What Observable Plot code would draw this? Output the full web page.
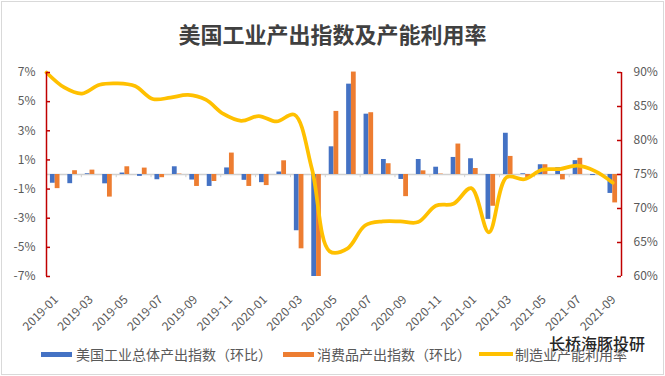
<!DOCTYPE html>
<html>
<head>
<meta charset="utf-8">
<script src="https://cdn.jsdelivr.net/npm/d3@7"></script>
<script src="https://cdn.jsdelivr.net/npm/@observablehq/plot@0.6"></script>
<style>
  html, body { margin: 0; padding: 0; background: #fff; }
  #wrap { position: relative; width: 665px; height: 376px; overflow: hidden; background: #fff;
          font-family: "Noto Sans CJK SC", "Noto Sans", sans-serif; }
  #border { position: absolute; left: 1px; top: 1px; width: 661px; height: 372px; border: 1px solid #d9d9d9; }
  #chart { position: absolute; left: 0; top: 0; }
  #title { position: absolute; left: 0; top: 22px; width: 665px; text-align: center;
           font-size: 22px; line-height: 22px; font-weight: bold; color: #404040; }
  .lg { position: absolute; top: 347px; font-size: 14px; line-height: 14px; color: #595959; white-space: nowrap; }
  .sw { position: absolute; }
  #wm { position: absolute; left: 549px; top: 335px; font-size: 16px; line-height: 16px; color: #262626;
        font-weight: 500; white-space: nowrap; text-shadow: 0 0 2px #fff, 0 0 2px #fff; }
</style>
</head>
<body>
<div id="wrap">
  <div id="border"></div>
  <div id="chart"></div>
  <div id="title">美国工业产出指数及产能利用率</div>
  <div class="sw" style="left:41px;top:352px;width:31px;height:5px;background:#4472C4"></div>
  <div class="lg" style="left:76px">美国工业总体产出指数（环比）</div>
  <div class="sw" style="left:283px;top:352px;width:31px;height:5px;background:#ED7D31"></div>
  <div class="lg" style="left:317px">消费品产出指数（环比）</div>
  <div class="sw" style="left:479px;top:352px;width:34px;height:4px;background:#FFC000"></div>
  <div class="lg" style="left:515px">制造业产能利用率</div>
  <div id="wm">长桥海豚投研</div>
</div>
<script>
// ---- data ----
const months = ["2019-01","2019-02","2019-03","2019-04","2019-05","2019-06","2019-07","2019-08","2019-09","2019-10","2019-11","2019-12",
                "2020-01","2020-02","2020-03","2020-04","2020-05","2020-06","2020-07","2020-08","2020-09","2020-10","2020-11","2020-12",
                "2021-01","2021-02","2021-03","2021-04","2021-05","2021-06","2021-07","2021-08","2021-09"];
// 美国工业总体产出指数（环比, %）
const ipMoM = [-0.6, -0.63, 0.05, -0.64, 0.1, -0.13, -0.36, 0.53, -0.38, -0.82, 0.45, -0.4,
               -0.56, 0.17, -3.86, -7.0, 1.9, 6.2, 4.14, 1.03, -0.34, 1.03, 0.5, 1.17,
               1.08, -3.08, 2.83, 0.05, 0.67, 0.47, 0.95, -0.07, -1.3];
// 消费品产出指数（环比, %）
const consumerMoM = [-0.97, 0.26, 0.3, -1.55, 0.53, 0.44, -0.22, 0.03, -0.82, -0.48, 1.47, -0.82,
                     -0.76, 0.94, -5.1, -7.0, 4.33, 7.03, 4.24, 0.74, -1.52, 0.25, 0.03, 2.09,
                     0.41, -2.18, 1.24, -0.22, 0.67, -0.37, 1.11, 0.0, -1.95];
// 制造业产能利用率 (%)
const capUtil = [90.0, 87.8, 86.9, 88.2, 88.4, 88.0, 86.1, 86.3, 86.7, 86.0, 83.9, 82.9,
                 83.6, 82.8, 83.8, 75.8, 63.7, 64.1, 67.5, 68.1, 68.1, 68.0, 70.4, 70.7,
                 73.0, 66.5, 74.6, 74.3, 75.7, 75.8, 76.3, 75.5, 73.8];
const leftTicks = [7, 5, 3, 1, -1, -3, -5, -7];
const rightTicks = [90, 85, 80, 75, 70, 65, 60];

// ---- helpers ----
const idx = months.map((m, i) => i);
const labelIdx = idx.filter(i => i % 2 === 0);
const toLeft = v => (v - 75) * 14 / 30;   // map right axis (60..90) onto left (-7..7)
const lineStep = 32.5 / (capUtil.length - 1);
const axisRed = "#C00000";
const txt = "#595959";

const chart = Plot.plot({
  width: 665,
  height: 376,
  marginLeft: 46,
  marginRight: 44,
  marginTop: 72,
  marginBottom: 100,
  x: {domain: [0, months.length], axis: null},
  y: {domain: [-7, 7], axis: null},
  style: {background: "transparent", fontFamily: "'Noto Sans CJK SC', 'Noto Sans', sans-serif", fontSize: "12px", overflow: "visible"},
  marks: [
    Plot.ruleY([0], {stroke: "#d0d0d0", strokeWidth: 1.5}),
    Plot.ruleX(idx.filter(i => i > 0 && i % 2 === 0), {x: d => d, y1: 0, y2: -0.22, stroke: "#d0d0d0", strokeWidth: 1}),
    Plot.rect(idx, {x1: i => i + 0.225, x2: i => i + 0.5, y1: 0, y2: i => ipMoM[i], fill: "#4472C4"}),
    Plot.rect(idx, {x1: i => i + 0.5, x2: i => i + 0.775, y1: 0, y2: i => consumerMoM[i], fill: "#ED7D31"}),
    Plot.line(capUtil, {x: (d, k) => k * lineStep, y: d => toLeft(d), curve: "catmull-rom",
                        stroke: "#FFC000", strokeWidth: 3.75, strokeLinecap: "round", strokeLinejoin: "round"}),
    // left axis
    Plot.ruleX([0], {y1: -7, y2: 7, stroke: axisRed, strokeWidth: 1.5}),
    Plot.ruleY(leftTicks, {x1: 0, x2: 0.23, y: d => d, stroke: axisRed, strokeWidth: 1.5}),
    Plot.text(leftTicks, {x: 0, y: d => d, text: d => d + "%", textAnchor: "end", dx: -11, fill: txt, fontSize: 12}),
    // right axis
    Plot.ruleX([months.length], {y1: -7, y2: 7, stroke: axisRed, strokeWidth: 1.5}),
    Plot.ruleY(rightTicks, {x1: months.length - 0.23, x2: months.length, y: d => toLeft(d), stroke: axisRed, strokeWidth: 1.5}),
    Plot.text(rightTicks, {x: months.length, y: d => toLeft(d), text: d => d + "%", textAnchor: "start", dx: 12, fill: txt, fontSize: 12}),
    // x labels
    Plot.text(labelIdx, {x: i => i + 0.5, y: -7, text: i => months[i], rotate: -45, textAnchor: "end",
                         dy: 21, dx: 1, fill: txt, fontSize: 12})
  ]
});
document.getElementById("chart").appendChild(chart);
</script>
</body>
</html>
